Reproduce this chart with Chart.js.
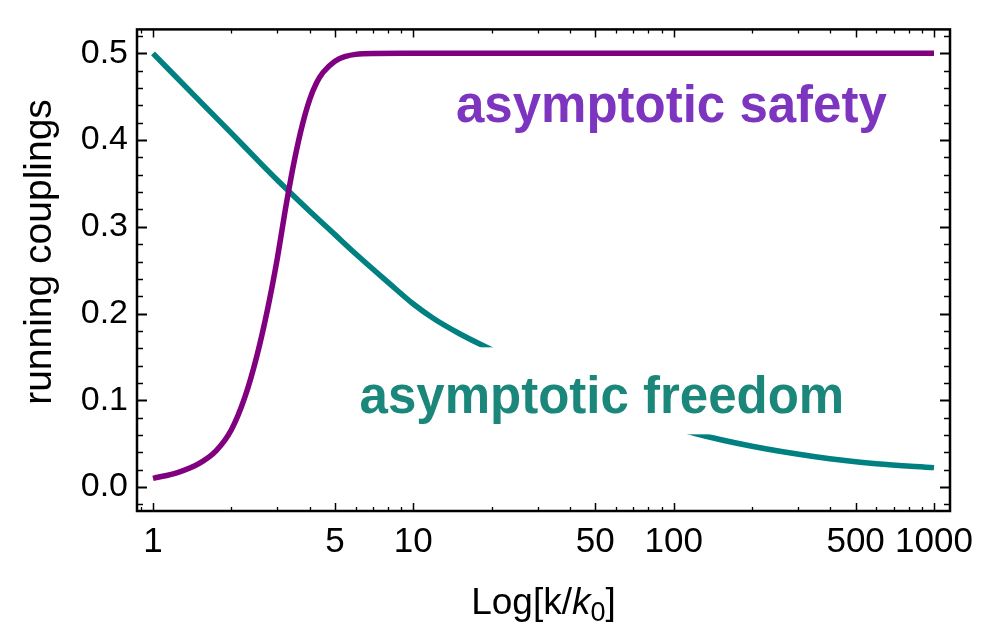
<!DOCTYPE html>
<html>
<head>
<meta charset="utf-8">
<script src="https://cdn.jsdelivr.net/npm/chart.js@4.4.1/dist/chart.umd.min.js"></script>
<style>
  body { margin: 0; background: #fff; }
  canvas { display: block; }
</style>
</head>
<body>
<canvas id="myChart" width="1004" height="627"></canvas>
<script>
// running couplings vs k/k0
const safetyK = [1, 1.25, 1.5, 1.75, 2, 2.25, 2.5, 2.75, 3, 3.25, 3.5, 3.75, 4, 4.25, 4.5, 5, 5.5, 6, 7, 10, 30, 100, 300, 1000];
const safetyG = [0.010, 0.017, 0.027, 0.042, 0.066, 0.103, 0.150, 0.204, 0.263, 0.326, 0.378, 0.418, 0.447, 0.466, 0.478, 0.491, 0.4965, 0.4988, 0.4998, 0.5, 0.5, 0.5, 0.5, 0.5];
const freedomK = [1, 1.5, 2, 2.5, 3, 4, 5, 6, 8, 10, 12, 15, 20, 30, 50, 80, 120, 200, 350, 600, 1000];
const freedomG = [0.500, 0.446, 0.408, 0.378, 0.354, 0.318, 0.291, 0.269, 0.236, 0.211, 0.194, 0.177, 0.158, 0.131, 0.100, 0.078, 0.062, 0.047, 0.035, 0.027, 0.0224];

const xMajor = [1, 5, 10, 50, 100, 500, 1000];
const yMajor = [0, 0.1, 0.2, 0.3, 0.4, 0.5];

const FONT = "'Liberation Sans', Arial, Helvetica, sans-serif";

function points(ks, gs) {
  return ks.map((k, i) => ({ x: k, y: gs[i] }));
}

// frame with inward ticks on all four sides, plus the axis titles
const framePlugin = {
  id: 'frame',
  afterDraw(chart) {
    const { ctx, chartArea: a, scales: { x, y } } = chart;
    ctx.save();
    ctx.strokeStyle = '#000';

    const xMinor = [];
    for (let e = -1; e <= 3; e++) {
      for (let m = 1; m <= 9; m++) {
        const v = m * Math.pow(10, e);
        if (v >= x.min && v <= x.max && !xMajor.some(t => Math.abs(t - v) < 1e-9)) xMinor.push(v);
      }
    }
    const yMinor = [];
    for (let i = -1; i <= 26; i++) {
      const v = i * 0.02;
      if (i % 5 !== 0 && v >= y.min && v <= y.max) yMinor.push(v);
    }

    function tickX(v, len, w) {
      const px = Math.round(x.getPixelForValue(v)) + 0.5;
      ctx.lineWidth = w;
      ctx.beginPath();
      ctx.moveTo(px, a.bottom); ctx.lineTo(px, a.bottom - len);
      ctx.moveTo(px, a.top); ctx.lineTo(px, a.top + len);
      ctx.stroke();
    }
    function tickY(v, len, w) {
      const py = Math.round(y.getPixelForValue(v)) + 0.5;
      ctx.lineWidth = w;
      ctx.beginPath();
      ctx.moveTo(a.left, py); ctx.lineTo(a.left + len, py);
      ctx.moveTo(a.right, py); ctx.lineTo(a.right - len, py);
      ctx.stroke();
    }
    xMinor.forEach(v => tickX(v, 4, 1.3));
    xMajor.forEach(v => tickX(v, 8, 1.5));
    yMinor.forEach(v => tickY(v, 6, 1.5));
    yMajor.forEach(v => tickY(v, 10, 2));

    ctx.lineWidth = 2.5;
    ctx.strokeRect(a.left, a.top, a.right - a.left, a.bottom - a.top);

    ctx.fillStyle = '#000';

    // y axis title
    ctx.save();
    ctx.translate(40, 252);
    ctx.rotate(-Math.PI / 2);
    ctx.font = `39px ${FONT}`;
    ctx.textAlign = 'center';
    ctx.textBaseline = 'middle';
    ctx.fillText('running couplings', 0, 0);
    ctx.restore();

    // x axis title: Log[k/k0] with italic k and subscript 0
    const size = 37;
    const parts = [
      { t: 'Log[k/', f: `${size}px ${FONT}`, dy: 0 },
      { t: 'k', f: `italic ${size}px ${FONT}`, dy: 0 },
      { t: '0', f: `${Math.round(size * 0.72)}px ${FONT}`, dy: 7 },
      { t: ']', f: `${size}px ${FONT}`, dy: 0 }
    ];
    let total = 0;
    parts.forEach(p => { ctx.font = p.f; p.w = ctx.measureText(p.t).width; total += p.w; });
    let tx = (a.left + a.right) / 2 - total / 2;
    const base = 614;
    ctx.textAlign = 'left';
    ctx.textBaseline = 'alphabetic';
    parts.forEach(p => {
      ctx.font = p.f;
      ctx.fillText(p.t, tx, base + p.dy);
      tx += p.w;
    });
    ctx.restore();
  }
};

// curve labels, placed in data coordinates
const labelPlugin = {
  id: 'curveLabels',
  afterDatasetsDraw(chart) {
    const { ctx, scales: { x, y } } = chart;
    ctx.save();
    ctx.font = `bold 51px ${FONT}`;
    ctx.textAlign = 'center';
    ctx.textBaseline = 'alphabetic';

    // asymptotic freedom sits on a white box that hides the curve under it
    const fx = x.getPixelForValue(53);
    const fy = y.getPixelForValue(0.085);
    const fw = ctx.measureText('asymptotic freedom').width;
    ctx.fillStyle = '#fff';
    ctx.fillRect(fx - fw / 2 - 8, fy - 66, fw + 16, 87);
    ctx.fillStyle = '#1a877a';
    ctx.fillText('asymptotic freedom', fx, fy);

    ctx.fillStyle = '#7d35bf';
    ctx.fillText('asymptotic safety', x.getPixelForValue(98), y.getPixelForValue(0.4205));
    ctx.restore();
  }
};

const ctx = document.getElementById('myChart').getContext('2d');
const couplingChart = new Chart(ctx, {
  type: 'line',
  data: {
    datasets: [
      {
        label: 'asymptotic safety',
        data: points(safetyK, safetyG),
        borderColor: '#800080',
        borderWidth: 5.5,
        pointRadius: 0,
        cubicInterpolationMode: 'monotone',
        fill: false
      },
      {
        label: 'asymptotic freedom',
        data: points(freedomK, freedomG),
        borderColor: '#008080',
        borderWidth: 5.5,
        pointRadius: 0,
        cubicInterpolationMode: 'monotone',
        fill: false
      }
    ]
  },
  options: {
    responsive: false,
    animation: false,
    layout: { padding: { top: 8, right: 54, left: 0, bottom: 0 } },
    plugins: {
      legend: { display: false },
      tooltip: { enabled: false }
    },
    scales: {
      x: {
        type: 'logarithmic',
        min: 0.868,
        max: 1152,
        grid: { display: false, drawTicks: false },
        border: { display: false },
        afterBuildTicks: scale => { scale.ticks = xMajor.map(v => ({ value: v })); },
        afterFit: scale => { scale.height = 116; },
        ticks: {
          autoSkip: false,
          maxRotation: 0,
          padding: 10,
          color: '#000',
          font: { family: FONT, size: 35 },
          callback: v => String(v)
        }
      },
      y: {
        min: -0.0276,
        max: 0.5276,
        grid: { display: false, drawTicks: false },
        border: { display: false },
        afterBuildTicks: scale => { scale.ticks = yMajor.map(v => ({ value: v })); },
        afterFit: scale => { scale.width = 137; },
        ticks: {
          padding: 9,
          color: '#000',
          font: { family: FONT, size: 34 },
          callback: v => v.toFixed(1)
        }
      }
    }
  },
  plugins: [labelPlugin, framePlugin]
});
</script>
</body>
</html>
